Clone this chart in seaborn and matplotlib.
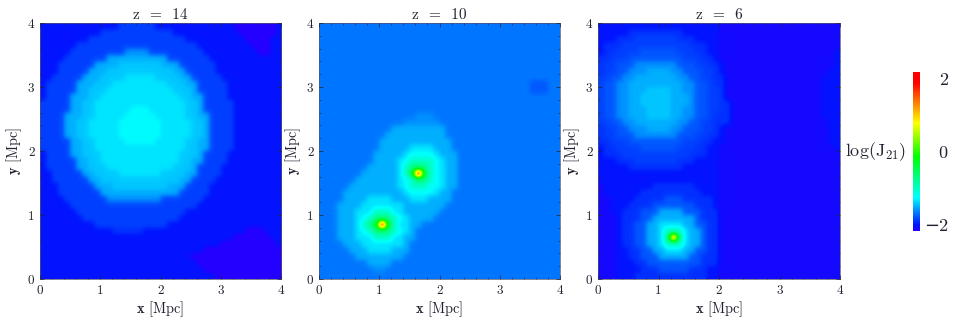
import numpy as np
import matplotlib
matplotlib.use("Agg")
import matplotlib.pyplot as plt
from matplotlib.colors import LinearSegmentedColormap
import seaborn as sns

W, H = 955, 322
TITLES = ["z = 14", "z = 10", "z = 6"]
TICK_LABELS = ["0", "1", "2", "3", "4"]
CBAR_TICKS = [-2, 0, 2]
CBAR_LABELS = ["\u22122", "0", "2"]

# log(J21) value of each symbol used in the maps below
LEVELS = {"p": -2.2, "q": -2.1, "0": -2.0, "1": -1.9, "2": -1.85, "3": -1.78,
          "4": -1.68, "5": -1.6, "6": -1.5, "7": -1.42, "8": -1.33, "9": -1.25,
          "A": -1.0, "B": -0.7, "C": -0.3, "D": 0.1, "E": 0.8, "F": 1.5, "G": 2.1}

# Maps, top row first, 0.1 Mpc cells, as count:symbol runs
Z14 = [
    "13:0 6:2 13:0 7:p 1:0",
    "10:0 12:2 11:0 6:p 1:0",
    "8:0 16:2 10:0 4:p 2:0",
    "6:0 20:2 9:0 3:p 2:0",
    "5:0 9:2 4:5 9:2 9:0 2:p 2:0",
    "4:0 7:2 10:6 7:2 12:0",
    "3:0 6:2 4:6 7:7 3:6 6:2 11:0",
    "3:0 5:2 3:6 11:7 2:6 5:2 11:0",
    "2:0 5:2 3:6 4:7 5:8 4:7 2:6 5:2 10:0",
    "1:0 5:2 3:6 3:7 9:8 3:7 2:6 5:2 9:0",
    "1:0 5:2 2:6 3:7 11:8 3:7 1:6 5:2 9:0",
    "1:0 4:2 3:6 2:7 3:8 7:8 3:8 2:7 2:6 4:2 9:0",
    "5:2 2:6 2:7 3:8 9:8 3:8 2:7 1:6 5:2 8:0",
    "5:2 2:6 2:7 3:8 3:8 3:9 3:8 3:8 2:7 1:6 5:2 8:0",
    "4:2 3:6 2:7 2:8 3:8 5:9 3:8 2:8 2:7 2:6 4:2 8:0",
    "4:2 2:6 2:7 3:8 2:8 7:9 2:8 3:8 2:7 1:6 4:2 8:0",
    "4:2 2:6 2:7 3:8 2:8 7:9 2:8 3:8 2:7 1:6 4:2 8:0",
    "4:2 2:6 2:7 3:8 2:8 7:9 2:8 3:8 2:7 1:6 4:2 8:0",
    "5:2 2:6 2:7 2:8 3:8 5:9 3:8 2:8 2:7 2:6 4:2 8:0",
    "5:2 2:6 2:7 3:8 9:8 3:8 2:7 2:6 4:2 8:0",
    "1:0 4:2 2:6 3:7 3:8 7:8 3:8 3:7 1:6 4:2 9:0",
    "1:0 5:2 2:6 2:7 4:8 5:8 4:8 2:7 2:6 4:2 9:0",
    "1:0 5:2 2:6 3:7 11:8 3:7 1:6 4:2 10:0",
    "2:0 5:2 2:6 4:7 7:8 4:7 2:6 4:2 10:0",
    "2:0 6:2 2:6 13:7 2:6 4:2 11:0",
    "3:0 6:2 3:6 9:7 3:6 4:2 12:0",
    "3:0 7:2 13:6 5:2 12:0",
    "4:0 7:2 9:5 7:2 13:0",
    "5:0 21:2 14:0",
    "6:0 18:2 16:0",
    "7:0 16:2 17:0",
    "9:0 12:2 19:0",
    "12:0 5:1 17:0 3:p 3:0",
    "32:0 6:p 2:0",
    "30:0 9:p 1:0",
    "27:0 13:p",
    "25:0 15:p",
    "26:0 14:p",
    "27:0 13:p",
    "29:0 11:p",
]

Z10 = [
    "40:4", "40:4", "40:4", "40:4", "40:4", "40:4", "40:4", "40:4", "40:4",
    "35:4 3:3 2:4",
    "35:4 3:3 2:4",
    "40:4", "40:4", "40:4",
    "16:4 3:5 21:4",
    "14:4 6:5 20:4",
    "12:4 9:6 19:4",
    "11:4 10:6 19:4",
    "10:4 12:6 18:4",
    "10:4 5:6 4:8 3:6 18:4",
    "9:4 5:6 1:8 4:9 1:8 3:6 17:4",
    "9:4 4:6 1:8 1:9 4:A 1:9 1:8 2:6 17:4",
    "8:4 5:6 1:8 1:A 3:B 1:A 1:9 1:8 2:6 17:4",
    "7:4 6:6 1:8 1:A 1:C 1:G 1:C 1:A 1:9 1:8 2:6 17:4",
    "6:4 7:6 1:8 1:9 1:A 2:B 1:A 1:9 1:8 2:6 17:4",
    "5:4 8:6 1:8 1:9 3:A 2:9 1:8 2:6 17:4",
    "4:4 10:6 1:8 4:9 1:8 2:6 18:4",
    "4:4 4:6 4:8 3:6 3:8 4:6 18:4",
    "3:4 4:6 7:8 7:6 19:4",
    "3:4 3:6 3:8 3:A 2:8 6:6 20:4",
    "3:4 3:6 1:8 1:9 1:A 3:B 1:A 1:9 1:8 4:6 21:4",
    "3:4 3:6 1:8 1:A 1:B 1:C 1:G 1:C 1:A 2:8 2:6 23:4",
    "3:4 3:6 1:8 1:9 1:A 3:B 1:A 1:9 1:8 1:6 24:4",
    "3:4 3:6 3:8 3:A 2:8 2:6 24:4",
    "4:4 3:6 7:8 1:6 25:4",
    "5:4 3:6 4:8 3:6 25:4",
    "6:4 8:6 26:4",
    "8:4 4:6 28:4",
    "9:4 2:5 29:4",
    "40:4",
]

Z6 = [
    "20:0 20:q",
    "5:0 9:1 6:0 20:q",
    "3:0 3:1 7:2 3:1 4:0 20:q",
    "1:0 3:1 11:2 3:1 2:0 20:q",
    "1:0 2:1 4:2 6:3 3:2 2:1 2:0 19:q 1:0",
    "2:1 3:2 9:3 3:2 2:1 1:0 19:q 1:0",
    "1:1 2:2 3:3 7:5 3:3 2:2 2:1 1:0 18:q 1:0",
    "1:1 2:2 2:3 3:5 4:6 2:5 3:3 2:2 1:1 1:0 17:q 2:0",
    "2:2 2:3 2:5 7:6 2:5 2:3 2:2 2:1 16:q 3:0",
    "1:2 2:3 2:5 9:6 2:5 2:3 1:2 2:1 16:q 3:0",
    "1:2 2:3 2:5 3:6 4:7 2:6 2:5 2:3 2:2 1:1 16:q 3:0",
    "1:2 2:3 2:5 2:6 5:7 3:6 1:5 2:3 2:2 1:1 16:q 3:0",
    "1:2 2:3 2:5 2:6 5:7 3:6 1:5 2:3 2:2 2:1 15:q 3:0",
    "1:2 2:3 2:5 3:6 4:7 2:6 2:5 2:3 2:2 2:1 15:q 3:0",
    "1:2 2:3 2:5 3:6 4:7 2:6 2:5 2:3 1:2 3:1 15:q 3:0",
    "2:2 2:3 2:5 7:6 2:5 2:3 2:2 3:1 16:q 2:0",
    "1:1 2:2 2:3 3:5 4:6 2:5 3:3 2:2 1:1 1:0 17:q 2:0",
    "1:1 2:2 3:3 7:5 3:3 2:2 2:1 1:0 17:q 2:0",
    "2:1 3:2 9:3 3:2 2:1 2:0 17:q 2:0",
    "1:0 2:1 4:2 6:3 3:2 2:1 2:0 19:q 1:0",
    "1:0 3:1 11:2 3:1 2:0 20:q",
    "3:0 3:1 7:2 3:1 4:0 20:q",
    "5:0 9:1 6:0 20:q",
    "20:0 20:q",
    "20:0 20:q",
    "1:q 8:0 7:1 4:0 20:q",
    "1:q 6:0 10:1 3:0 20:q",
    "2:q 4:0 5:1 3:3 5:1 1:0 20:q",
    "2:q 3:0 4:1 7:3 3:1 1:0 20:q",
    "2:q 2:0 3:1 3:3 4:6 3:3 3:1 20:q",
    "3:q 1:0 3:1 2:3 7:6 1:3 3:1 20:q",
    "3:q 1:0 2:1 2:3 2:6 4:8 2:6 2:3 2:1 20:q",
    "3:q 1:0 2:1 2:3 2:6 1:8 3:A 1:8 2:6 1:3 2:1 20:q",
    "3:q 1:0 2:1 2:3 2:6 1:8 1:B 1:F 1:B 1:8 2:6 1:3 2:1 20:q",
    "3:q 1:0 2:1 2:3 2:6 1:8 3:A 1:8 2:6 1:3 2:1 20:q",
    "3:q 2:0 2:1 2:3 2:6 3:8 2:6 2:3 2:1 20:q",
    "3:q 2:0 2:1 3:3 5:6 2:3 3:1 20:q",
    "3:q 3:0 2:1 9:3 3:1 20:q",
    "3:q 4:0 3:1 5:3 3:1 2:0 20:q",
    "3:q 3:0 12:1 2:0 20:q",
]

# Colour bar stops: (log J21, colour)
CMAP_STOPS = [(-2.17, (0.14, 0.0, 1.0)), (-2.0, (0.0, 0.08, 1.0)),
              (-1.25, (0.0, 1.0, 1.0)), (-0.13, (0.0, 1.0, 0.0)),
              (0.8, (1.0, 1.0, 0.0)), (1.9, (1.0, 0.0, 0.0)), (2.2, (1.0, 0.0, 0.0))]
VMIN, VMAX = CMAP_STOPS[0][0], CMAP_STOPS[-1][0]


def decode(rows):
    out = []
    for row in rows:
        cells = []
        for run in row.split():
            n, s = run.split(":")
            cells += [LEVELS[s]] * int(n)
        assert len(cells) == 40, row
        out.append(cells)
    return np.array(out)


sns.set_theme(style="white")
plt.rcParams["font.family"] = ["cmr10", "DejaVu Serif"]
plt.rcParams["mathtext.fontset"] = "cm"
plt.rcParams["axes.unicode_minus"] = False
plt.rcParams["axes.formatter.use_mathtext"] = True

cmap = LinearSegmentedColormap.from_list(
    "rainbow_j21", [((v - VMIN) / (VMAX - VMIN), c) for v, c in CMAP_STOPS], N=256)

fig = plt.figure(figsize=(W / 100, H / 100), dpi=100, facecolor="white")


def box(l, t, r, b):
    return [l / W, 1 - b / H, (r - l) / W, (b - t) / H]


boxes = [box(40, 23, 281, 279), box(319, 23, 560, 279), box(598, 23, 840, 279)]
cax = fig.add_axes(box(913, 72, 920, 231))
INK = "#222233"

for i, (rows, title, bb) in enumerate(zip([Z14, Z10, Z6], TITLES, boxes)):
    ax = fig.add_axes(bb)
    data = decode(rows)
    sns.heatmap(data, ax=ax, cmap=cmap, vmin=VMIN, vmax=VMAX, square=False,
                cbar=i == 2, cbar_ax=cax if i == 2 else None,
                xticklabels=False, yticklabels=False)
    # soft rendering of the same cells, as in the blurred reference
    ax.imshow(data, extent=(0, 40, 40, 0), cmap=cmap, vmin=VMIN, vmax=VMAX,
              interpolation="gaussian", aspect="auto", zorder=2)
    ax.set_xlim(0, 40)
    ax.set_ylim(40, 0)
    ax.set_xticks([0, 10, 20, 30, 40])
    ax.set_xticklabels(TICK_LABELS)
    ax.set_yticks([40, 30, 20, 10, 0])
    ax.set_yticklabels(TICK_LABELS)
    ax.set_xticks(np.arange(0, 41, 2), minor=True)
    ax.set_yticks(np.arange(0, 41, 2), minor=True)
    ax.tick_params(axis="both", which="major", direction="in", length=3, width=0.5,
                   colors=INK, labelsize=9.5, pad=4, top=True, right=True,
                   bottom=True, left=True, labelrotation=0)
    ax.tick_params(axis="both", which="minor", direction="in", length=1.5, width=0.4,
                   color=INK, top=True, right=True, bottom=True, left=True)
    for s in ax.spines.values():
        s.set_visible(True)
        s.set_linewidth(0.5)
        s.set_color("#555566")
    ax.set_axisbelow(False)
    ax.set_title(title.replace(" ", "  "), fontsize=11, color=INK, pad=3)
    ax.set_xlabel(r"$\mathbf{x}$ [Mpc]", fontsize=10.3, color=INK, labelpad=2)
    ax.set_ylabel(r"$\mathbf{y}$ [Mpc]", fontsize=10.3, color=INK, labelpad=3)

cax.yaxis.set_ticks_position("right")
cax.set_yticks(CBAR_TICKS)
cax.set_yticklabels(CBAR_LABELS)
cax.tick_params(axis="y", length=0, labelsize=13, pad=20, colors=INK)
for t in cax.get_yticklabels():
    t.set_horizontalalignment("right")
for s in cax.spines.values():
    s.set_visible(False)
fig.text(876 / W, 1 - 152 / H, r"$\mathrm{log(J_{21})}$", fontsize=13,
         ha="center", va="center", color=INK)

fig.savefig("out.png", dpi=100, facecolor="white")
